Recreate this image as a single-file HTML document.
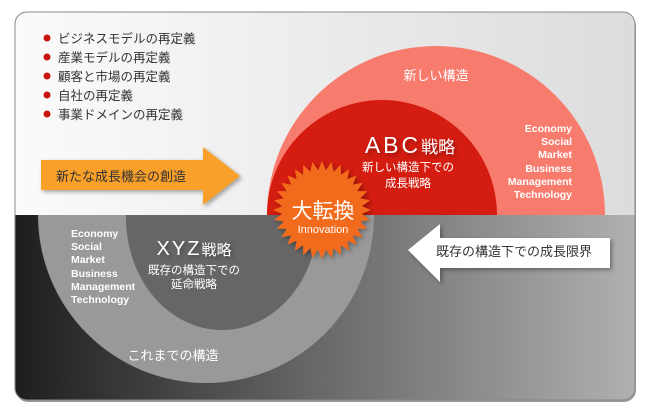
<!DOCTYPE html>
<html><head><meta charset="utf-8"><style>
body{margin:0;width:650px;height:415px;background:#fff;overflow:hidden}
svg text{font-family:"Liberation Sans","Noto Sans CJK JP",sans-serif}
</style></head><body>
<svg width="650" height="415" viewBox="0 0 650 415" xmlns="http://www.w3.org/2000/svg">
<defs>
<linearGradient id="top" x1="0" y1="0" x2="1" y2="0"><stop offset="0" stop-color="#fbfbfb"/><stop offset="1" stop-color="#dcdcdc"/></linearGradient>
<linearGradient id="bot" x1="0" y1="0" x2="1" y2="0"><stop offset="0" stop-color="#1e1e1e"/><stop offset="0.5" stop-color="#6a6a6a"/><stop offset="1" stop-color="#b0b0b0"/></linearGradient>
<clipPath id="frame"><rect x="15" y="12" width="620" height="388" rx="12"/></clipPath>
<clipPath id="topc"><rect x="0" y="0" width="650" height="215"/></clipPath>
<clipPath id="botc"><rect x="0" y="215" width="650" height="200"/></clipPath>
<filter id="sh"><feDropShadow dx="2" dy="2" stdDeviation="2" flood-opacity="0.35"/></filter>
</defs>
<rect x="15" y="12" width="620" height="388" rx="12" fill="#999" transform="translate(1,2)"/>
<g clip-path="url(#frame)">
<rect x="15" y="12" width="620" height="203" fill="url(#top)"/>
<rect x="15" y="215" width="620" height="185" fill="url(#bot)"/>
<g clip-path="url(#topc)">
<circle cx="436" cy="215" r="169" fill="#f87c6e"/>
<circle cx="382" cy="215" r="115" fill="#d41c10"/>
</g>
<g clip-path="url(#botc)">
<circle cx="206" cy="215" r="168" fill="#999"/>
<ellipse cx="222" cy="218" rx="96" ry="112" fill="#666"/>
</g>
</g>
<rect x="15" y="12" width="620" height="388" rx="12" fill="none" stroke="#888" stroke-width="1"/>
<g font-size="12.5" fill="#333">
<circle cx="47" cy="38" r="3.5" fill="#c8140c"/><text x="58" y="43">ビジネスモデルの再定義</text>
<circle cx="47" cy="57" r="3.5" fill="#c8140c"/><text x="58" y="62">産業モデルの再定義</text>
<circle cx="47" cy="76" r="3.5" fill="#c8140c"/><text x="58" y="81">顧客と市場の再定義</text>
<circle cx="47" cy="95" r="3.5" fill="#c8140c"/><text x="58" y="100">自社の再定義</text>
<circle cx="47" cy="114" r="3.5" fill="#c8140c"/><text x="58" y="119">事業ドメインの再定義</text>
</g>
<polygon points="41,160 203,160 203,147 240,176 203,205 203,190 41,190" fill="#f9a02a" filter="url(#sh)"/>
<text x="56" y="181" font-size="13" fill="#333">新たな成長機会の創造</text>
<polygon points="408,250 440,224 440,238 610,238 610,268 440,268 440,282" fill="#fff" filter="url(#sh)"/>
<text x="436" y="256" font-size="13" fill="#333">既存の構造下での成長限界</text>
<g fill="#fff">
<text x="436" y="80" font-size="13" text-anchor="middle">新しい構造</text>
<text x="410" y="153" font-size="23" text-anchor="middle" filter="url(#sh)"><tspan letter-spacing="3">ABC</tspan><tspan font-size="17">戦略</tspan></text>
<text x="408" y="171" font-size="11.5" text-anchor="middle">新しい構造下での</text>
<text x="408" y="187" font-size="11.5" text-anchor="middle">成長戦略</text>
<g font-size="10.5" font-weight="bold" text-anchor="end">
<text x="572" y="132">Economy</text><text x="572" y="145">Social</text><text x="572" y="158">Market</text><text x="572" y="172">Business</text><text x="572" y="185">Management</text><text x="572" y="198">Technology</text>
</g>
<g font-size="10.5" font-weight="bold">
<text x="71" y="237">Economy</text><text x="71" y="250">Social</text><text x="71" y="263">Market</text><text x="71" y="277">Business</text><text x="71" y="290">Management</text><text x="71" y="303">Technology</text>
</g>
<text x="194" y="255" font-size="20" text-anchor="middle" filter="url(#sh)"><tspan letter-spacing="2">XYZ</tspan><tspan font-size="15">戦略</tspan></text>
<text x="194" y="274" font-size="11.5" text-anchor="middle">既存の構造下での</text>
<text x="194" y="288" font-size="11.5" text-anchor="middle">延命戦略</text>
<text x="173" y="360" font-size="13" text-anchor="middle">これまでの構造</text>
</g>
<polygon id="star" fill="#f26a1e" filter="url(#sh)"/>
<text x="323" y="218" font-size="21" fill="#fff" text-anchor="middle">大転換</text>
<text x="323" y="233" font-size="11" fill="#fff" text-anchor="middle">Innovation</text>
</svg>
<script>
var p=[],n=32,cx=322,cy=210;
for(var i=0;i<2*n;i++){var r=i%2?40:49,a=Math.PI*i/n;p.push((cx+r*Math.cos(a)).toFixed(1)+","+(cy+r*Math.sin(a)).toFixed(1));}
document.getElementById("star").setAttribute("points",p.join(" "));
</script>
</body></html>
